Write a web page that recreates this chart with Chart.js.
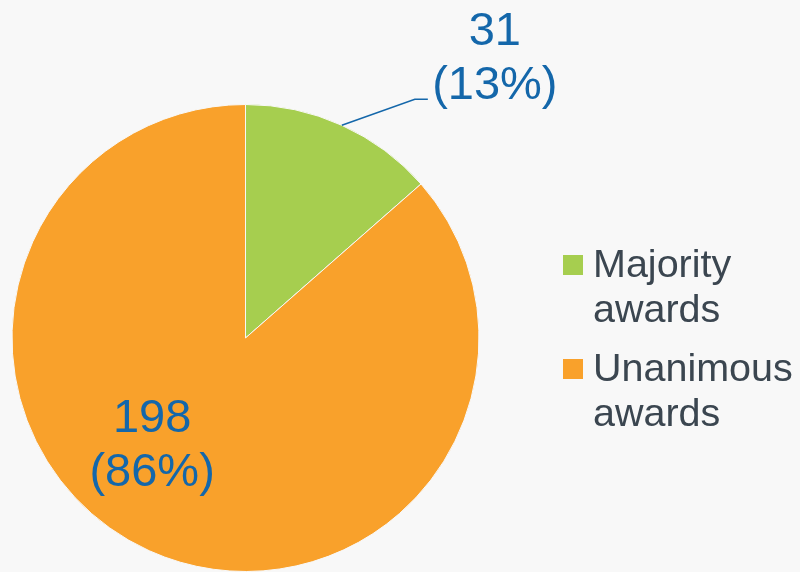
<!DOCTYPE html>
<html>
<head>
<meta charset="utf-8">
<script src="https://cdn.jsdelivr.net/npm/chart.js@4/dist/chart.umd.min.js"></script>
<style>
  html, body { margin: 0; padding: 0; background: #f8f8f8; overflow: hidden; }
  #wrap { width: 800px; height: 572px; position: relative; }
</style>
</head>
<body>
<div id="wrap"><canvas id="awards-chart"></canvas></div>
<script>
// --- DATA ---
const categories = [['Majority', 'awards'], ['Unanimous', 'awards']];
const awardCounts = [31, 198];
const percentText = ['13%', '86%'];
const sliceColors = ['#a6ce4f', '#f9a12b'];

const labelBlue = '#1467aa';
const legendGrey = '#3b4650';
const fontFamily = '"Liberation Sans", Arial, sans-serif';

// draws the value labels (with the leader line for the small slice) and the legend
const awardLabels = {
    id: 'awardLabels',
    afterDatasetsDraw(chart) {
        const ctx = chart.ctx;
        const arcs = chart.getDatasetMeta(0).data;
        const counts = chart.data.datasets[0].data;

        ctx.save();
        ctx.font = '47px ' + fontFamily;
        ctx.fillStyle = labelBlue;
        ctx.strokeStyle = labelBlue;
        ctx.textAlign = 'center';
        ctx.textBaseline = 'alphabetic';

        arcs.forEach((arc, i) => {
            const p = arc.getProps(['x', 'y', 'startAngle', 'endAngle', 'outerRadius'], true);
            const r = p.outerRadius;
            let tx, ty;
            if (i === 0) {
                // outside label with leader line
                const mid = (p.startAngle + p.endAngle) / 2;
                const ex = p.x + Math.cos(mid) * r;
                const ey = p.y + Math.sin(mid) * r;
                const bx = ex + 73, by = ey - 26;
                ctx.lineWidth = 1.5;
                ctx.beginPath();
                ctx.moveTo(ex, ey);
                ctx.lineTo(bx, by);
                ctx.lineTo(bx + 13, by);
                ctx.stroke();
                tx = bx + 80;
                ty = by;
            } else {
                tx = p.x - 0.4 * r;
                ty = p.y + 0.634 * r;
            }
            ctx.fillText(String(counts[i]), tx, ty - 54);
            ctx.fillText('(' + percentText[i] + ')', tx, ty);
        });

        // legend
        ctx.textAlign = 'left';
        ctx.font = '39.5px ' + fontFamily;
        const bgs = chart.data.datasets[0].backgroundColor;
        let y = 255;
        chart.data.labels.forEach((lines, i) => {
            ctx.fillStyle = bgs[i];
            ctx.fillRect(563, y, 20, 20);
            ctx.fillStyle = legendGrey;
            lines.forEach((line, j) => {
                ctx.fillText(line, 593, y + 22 + j * 45);
            });
            y += 104;
        });
        ctx.restore();
    }
};

const ctx = document.getElementById('awards-chart').getContext('2d');
new Chart(ctx, {
    type: 'pie',
    data: {
        labels: categories,
        datasets: [{
            data: awardCounts,
            backgroundColor: sliceColors,
            borderColor: '#f8f8f8',
            borderWidth: 1
        }]
    },
    options: {
        responsive: true,
        maintainAspectRatio: false,
        animation: false,
        events: [],
        layout: { padding: { left: 11, right: 320, top: 104, bottom: 0 } },
        plugins: {
            legend: { display: false },
            tooltip: { enabled: false }
        }
    },
    plugins: [awardLabels]
});
</script>
</body>
</html>
